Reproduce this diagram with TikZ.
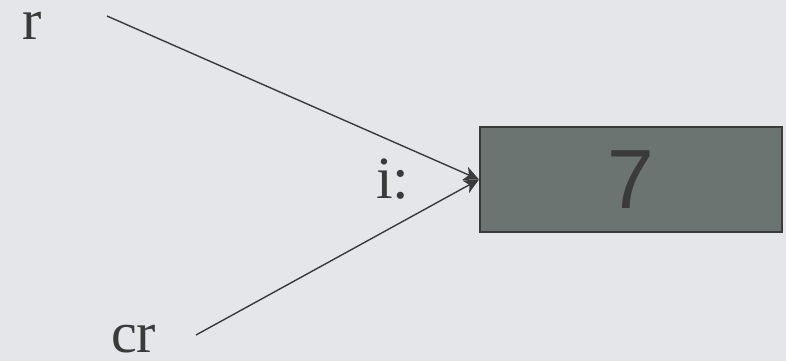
\documentclass[tikz,border=0pt]{standalone}
\usepackage{fontspec}
\setmainfont{Liberation Serif}
\newfontfamily\numfont{Liberation Sans}
\usetikzlibrary{arrows.meta}
\definecolor{bgcol}{RGB}{228,230,234}
\definecolor{boxfill}{RGB}{107,116,112}
\definecolor{ink}{RGB}{58,58,58}
\tikzset{
  lbl/.style={anchor=base west, inner sep=0pt, text=ink, text height=0.5em, text depth=0pt, font=\fontsize{58}{58}\selectfont},
  ref/.style={draw=ink, line width=1.4pt, -{Stealth[length=15pt,width=14pt,inset=4pt]}},
  cell/.style={draw=ink, line width=2pt, fill=boxfill, minimum width=302pt, minimum height=105pt, inner sep=0pt, text=ink, font=\numfont\fontsize{84}{84}\selectfont}
}
\begin{document}
\begin{tikzpicture}[x=1pt,y=-1pt]
  \fill[bgcol] (0,0) rectangle (786,361);
  \useasboundingbox (0,0) rectangle (786,361);
  % labels
  \node[lbl] (r) at (22,40) {r};
  \node[lbl, text height=0.7em, font=\fontsize{60}{60}\selectfont] (i) at (376,198) {i:};
  \node[lbl] (cr) at (111,352) {cr};
  % value cell
  \node[cell] (box) at (631,179.5) {7};
  % reference connectors
  \coordinate (rs) at (107,16);
  \coordinate (cs) at (196,335);
  \draw[ref] (rs) -- (box.west);
  \draw[ref] (cs) -- (box.west);
\end{tikzpicture}
\end{document}
